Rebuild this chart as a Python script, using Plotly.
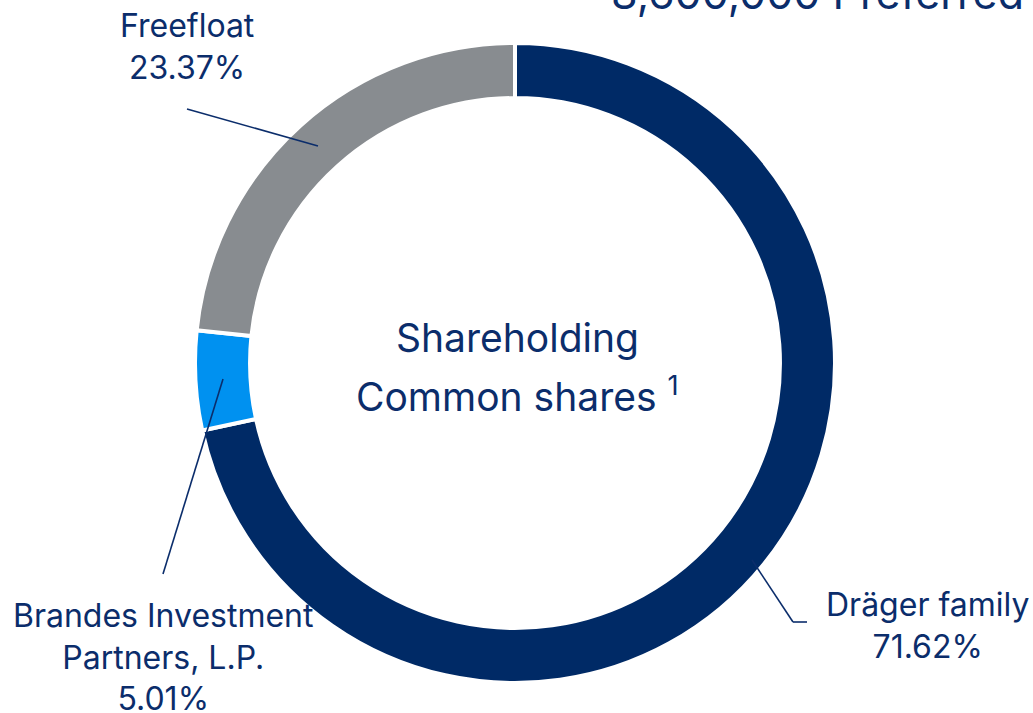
import plotly.graph_objects as go

labels = ["Dräger family", "Brandes Investment Partners, L.P.", "Freefloat"]
values = [71.62, 5.01, 23.37]
colors = ["#002A66", "#0091F0", "#888C90"]

W, H = 1033, 713
cx, cy, R = 515, 363, 320
NAVY = "#0B2D6B"
FONT = "Inter"

def px(x):
    return x / W

def py(y):
    return 1 - y / H

fig = go.Figure(go.Pie(
    labels=labels,
    values=values,
    hole=0.828,
    sort=False,
    direction="clockwise",
    rotation=0,
    marker=dict(colors=colors, line=dict(color="white", width=4)),
    textinfo="none",
    hoverinfo="label+percent",
    showlegend=False,
    domain=dict(x=[px(cx - R), px(cx + R)], y=[py(cy + R), py(cy - R)]),
))

annotations = [
    dict(x=px(187), y=py(47), text="Freefloat<br>23.37%", font=dict(size=32)),
    dict(x=px(163), y=py(657), text="Brandes Investment<br>Partners, L.P.<br>5.01%", font=dict(size=32)),
    dict(x=px(927), y=py(625), text="Dräger family<br>71.62%", font=dict(size=32)),
    dict(x=px(517), y=py(337), text="Shareholding", font=dict(size=39)),
    dict(x=px(517), y=py(395), text="Common shares <sup>1</sup>", font=dict(size=39)),
    dict(x=px(1026), y=py(-7), text="8,600,000 Preferred", font=dict(size=43), xanchor="right"),
]
for a in annotations:
    a.setdefault("xanchor", "center")
    a.update(xref="paper", yref="paper", yanchor="middle", showarrow=False, align="center")
    a["font"].update(family=FONT, color=NAVY)

shapes = [
    dict(type="line", x0=px(187), y0=py(109), x1=px(318), y1=py(146)),
    dict(type="line", x0=px(163), y0=py(574), x1=px(223), y1=py(379)),
    dict(type="line", x0=px(752), y0=py(560), x1=px(793), y1=py(622)),
    dict(type="line", x0=px(793), y0=py(622), x1=px(807), y1=py(622)),
]
for s in shapes:
    s.update(xref="paper", yref="paper", line=dict(color=NAVY, width=1.6))

fig.update_layout(
    width=W, height=H,
    margin=dict(l=0, r=0, t=0, b=0),
    paper_bgcolor="white",
    plot_bgcolor="white",
    annotations=annotations,
    shapes=shapes,
)

fig.write_html("out.html", config={"displayModeBar": False},
               post_script="document.body.style.margin='0';")
